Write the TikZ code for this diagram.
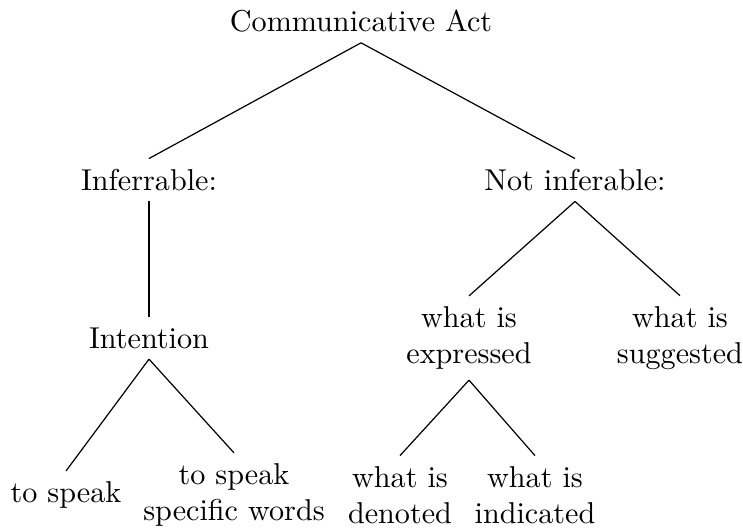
\documentclass[tikz,border=0pt]{standalone}
\usepackage{tikz}

\begin{document}
\begin{tikzpicture}[scale=1,leaf/.style={align=center},branch/.style={thin}]
    \useasboundingbox (0,0) rectangle (8.656,-6.186);
    %root
    \node (act) at (4.206,-0.245){Communicative Act};
    %first level
    \node (inf) at (1.736,-2.097){Inferrable:};
    \node (notinf) at (6.699,-2.097){Not inferable:};
    \draw [branch] (act.south) -- (inf.north);
    \draw [branch] (act.south) -- (notinf.north);
    %intention
    \node (int) at (1.736,-3.938){Intention};
    \draw [branch] (inf.south) -- (int.north);
    \node (speak) at (0.769,-5.767){to speak};
    \node [leaf] (words) at (2.726,-5.767){to speak\\specific words};
    \draw [branch] (int.south) -- (speak.north);
    \draw [branch] (int.south) -- (words.north);
    %not inferable
    \node [leaf] (expr) at (5.464,-3.938){what is\\expressed};
    \node [leaf] (sugg) at (7.922,-3.938){what is\\suggested};
    \draw [branch] (notinf.south) -- (expr.north);
    \draw [branch] (notinf.south) -- (sugg.north);
    \node [leaf] (den) at (4.66,-5.767){what is\\denoted};
    \node [leaf] (ind) at (6.233,-5.767){what is\\indicated};
    \draw [branch] (expr.south) -- (den.north);
    \draw [branch] (expr.south) -- (ind.north);
\end{tikzpicture}
\end{document}
